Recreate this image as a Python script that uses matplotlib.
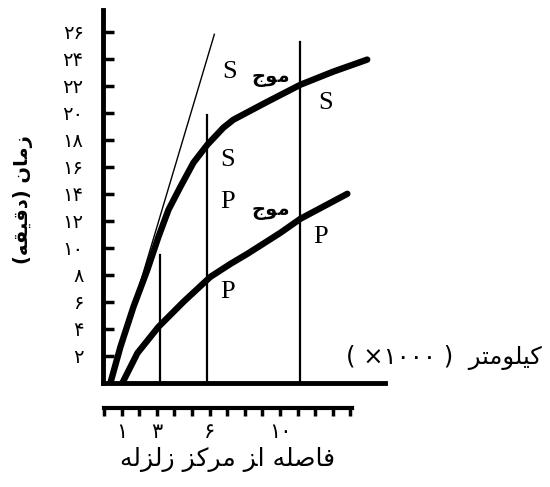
import matplotlib
matplotlib.use("Agg")
import matplotlib.pyplot as plt

# travel-time curves (x: thousand km, y: minutes)
s_dist = [0.34, 0.91, 1.65, 2.44, 3.07, 3.64, 4.32, 5.06, 5.85, 6.76, 7.33,
          8.30, 9.26, 11.14, 13.01, 14.94]
s_time = [0.0, 2.67, 5.63, 8.37, 10.81, 12.81, 14.52, 16.30, 17.63, 18.89,
          19.48, 20.15, 20.81, 22.07, 23.04, 23.93]
p_dist = [1.02, 1.88, 3.07, 4.49, 6.02, 7.16, 8.13, 10.0, 11.14, 13.81]
p_time = [0.0, 2.22, 4.15, 6.0, 7.85, 8.81, 9.56, 11.11, 12.15, 14.0]
tangent_dist = [0.34, 6.25]
tangent_time = [0.0, 25.8]
station_dist = [3.18, 5.85, 11.14]
station_top = [9.5, 19.85, 25.26]

y_ticks = [2, 4, 6, 8, 10, 12, 14, 16, 18, 20, 22, 24, 26]
y_labels = ["۲", "۴", "۶", "۸", "۱۰", "۱۲", "۱۴", "۱۶", "۱۸", "۲۰", "۲۲", "۲۴", "۲۶"]
ruler_ticks = list(range(15))
ruler_labels = {1: "۱", 3: "۳", 6: "۶", 10: "۱۰"}

# Persian strings in visual order with presentation forms (no shaping in mpl)
moj = "\ufe9d\ufeee\ufee3"  # موج
y_title = "(\ufeea\ufed8\ufef4\ufed7\ufea9) \ufee5\ufe8e\ufee3\ufeaf"  # زمان (دقیقه)
km_title = "( ×۱۰۰۰ )  \ufeae\ufe98\ufee3\ufeee\ufee0\ufef4\ufedb"  # کیلومتر
x_title = ("\ufeea\ufedf\ufeb0\ufedf\ufeaf \ufeb0\ufedb\ufeae\ufee3 "
           "\ufeb0\ufe8d \ufeea\ufee0\ufebb\ufe8e\ufed3")  # فاصله از مرکز زلزله

fig = plt.figure(figsize=(5.5, 4.87), dpi=100)
ax = fig.add_axes([103 / 550, 1 - 383 / 487, 282 / 550, 373 / 487])
ax.set_xlim(-0.08, 15.95)
ax.set_ylim(0, 27.6)

ax.plot(s_dist, s_time, color="black", lw=4.6, solid_capstyle="round",
        solid_joinstyle="round")
ax.plot(p_dist, p_time, color="black", lw=4.6, solid_capstyle="round",
        solid_joinstyle="round")
ax.plot(tangent_dist, tangent_time, color="black", lw=1.0)
for x, top in zip(station_dist, station_top):
    ax.plot([x, x], [0, top], color="black", lw=1.6)

for side in ["top", "right"]:
    ax.spines[side].set_visible(False)
for side in ["left", "bottom"]:
    ax.spines[side].set_linewidth(3.5)
ax.set_xticks([])
ax.set_yticks(y_ticks)
ax.set_yticklabels(y_labels)
ax.tick_params(axis="y", direction="in", length=8, width=2.5, pad=14,
               labelsize=14)

serif = dict(family="Liberation Serif", fontsize=19, ha="center", va="center")
ax.text(7.1, 23.0, "S", **serif)
ax.text(12.56, 20.7, "S", **serif)
ax.text(7.0, 16.5, "S", **serif)
ax.text(7.0, 13.4, "P", **serif)
ax.text(12.27, 10.8, "P", **serif)
ax.text(7.0, 6.7, "P", **serif)
ax.text(9.45, 22.6, moj, fontsize=14, ha="center", va="center", weight="bold")
ax.text(9.45, 12.8, moj, fontsize=14, ha="center", va="center", weight="bold")

fig.text(23 / 550, 1 - 200 / 487, y_title, rotation=90, fontsize=14,
         weight="bold", ha="center", va="center")
fig.text(444 / 550, 1 - 357 / 487, km_title, fontsize=17.5,
         ha="center", va="center")
fig.text(228 / 550, 1 - 460 / 487, x_title, fontsize=18,
         ha="center", va="center")

# separate distance ruler below the chart
ruler = fig.add_axes([104 / 550, 1 - 408 / 487, 282 / 550, 0.03])
ruler.set_xlim(0, 282 / 17.6)
ruler.set_ylim(0, 1)
for side in ["top", "right", "left"]:
    ruler.spines[side].set_visible(False)
ruler.spines["bottom"].set_linewidth(3)
ruler.spines["bottom"].set_bounds(0, 14.1)
ruler.set_yticks([])
ruler.set_xticks(ruler_ticks)
ruler.set_xticklabels([ruler_labels.get(t, "") for t in ruler_ticks])
ruler.tick_params(axis="x", direction="out", length=6, width=2.5, pad=4,
                  labelsize=15)
ruler.patch.set_alpha(0)

fig.savefig("out.png", dpi=100)
